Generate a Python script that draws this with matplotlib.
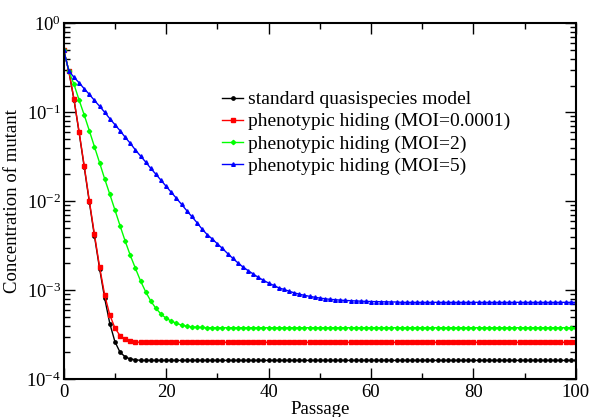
import matplotlib
matplotlib.use("Agg")
import matplotlib.pyplot as plt
from matplotlib.ticker import LogLocator, MultipleLocator, NullFormatter

plt.rcParams['font.family'] = ['Liberation Serif', 'DejaVu Serif']
plt.rcParams['mathtext.fontset'] = 'custom'
plt.rcParams['mathtext.rm'] = 'Liberation Serif'

# passages 0..100
passage = list(range(101))

# values (concentration of mutant)
standard = [0.5, 0.29, 0.139, 0.0593, 0.0243, 0.0098, 0.00406, 0.00175,
            8.09e-4, 4.21e-4, 2.63e-4, 2.00e-4, 1.78e-4, 1.68e-4, 1.65e-4] + [1.62e-4] * 86
moi_0001 = [0.5, 0.29, 0.141, 0.0605, 0.0251, 0.0101, 0.00424, 0.00183,
            8.81e-4, 5.25e-4, 3.75e-4, 3.07e-4, 2.80e-4, 2.68e-4, 2.61e-4] + [2.59e-4] * 86
moi_2 = [0.5, 0.29, 0.2065, 0.1375, 0.0933, 0.0621, 0.0410, 0.0271, 0.0178,
         0.01197, 0.00797, 0.00530, 0.00356, 0.00246, 0.00176, 0.00127,
         9.59e-4, 7.54e-4, 6.24e-4, 5.38e-4, 4.82e-4, 4.49e-4, 4.23e-4,
         4.05e-4, 3.94e-4, 3.87e-4, 3.83e-4, 3.80e-4] + [3.78e-4] * 73
moi_5 = [0.5, 0.29, 0.248, 0.215, 0.184, 0.159, 0.136, 0.117, 0.100, 0.0848,
         0.0726, 0.0621, 0.0524, 0.0448, 0.0377, 0.0322, 0.0276, 0.0234,
         0.0201, 0.0172, 0.0147, 0.0126, 0.0108, 0.00923, 0.00786, 0.00673,
         0.00576, 0.00487, 0.00422, 0.00376, 0.00332, 0.00294, 0.00258,
         0.00228, 0.00203, 0.00182, 0.00166, 0.00152, 0.00139, 0.00129,
         0.00120, 0.00113, 0.00106, 0.00102, 9.72e-4, 9.33e-4, 9.00e-4,
         8.74e-4, 8.52e-4, 8.32e-4, 8.15e-4, 8.00e-4, 7.88e-4, 7.80e-4,
         7.72e-4, 7.66e-4, 7.60e-4, 7.56e-4, 7.52e-4, 7.48e-4, 7.44e-4,
         7.42e-4, 7.40e-4, 7.38e-4, 7.36e-4, 7.35e-4] + [7.29e-4] * 35

labels = ['standard quasispecies model', 'phenotypic hiding (MOI=0.0001)',
          'phenotypic hiding (MOI=2)', 'phenotypic hiding (MOI=5)']

fig = plt.figure(figsize=(5.9, 4.17), dpi=100)
ax = fig.add_axes([0.108, 0.091, 0.868, 0.853])

ax.plot(passage, standard, color='black', marker='o', ms=2.4, lw=1.0, label=labels[0])
ax.plot(passage, moi_0001, color='#ff0000', marker='s', ms=2.4, lw=1.0, label=labels[1])
ax.plot(passage, moi_2, color='#00ff00', marker='D', ms=2.2, lw=1.0, label=labels[2])
ax.plot(passage, moi_5, color='#0000ff', marker='^', ms=2.6, lw=1.0, label=labels[3])

ax.set_yscale('log')
ax.set_xlim(0, 100)
ax.set_ylim(1e-4, 1)
ax.xaxis.set_major_locator(MultipleLocator(20))
ax.xaxis.set_minor_locator(MultipleLocator(10))
ax.yaxis.set_major_locator(LogLocator(base=10, numticks=10))
ax.yaxis.set_minor_locator(LogLocator(base=10, subs=range(2, 10), numticks=10))
ax.yaxis.set_minor_formatter(NullFormatter())
ax.tick_params(which='both', direction='in', top=True, right=True, labelsize=13.5, width=1)
ax.tick_params(axis='y', pad=2)
ax.tick_params(which='major', length=8)
ax.tick_params(which='minor', length=4)
for s in ax.spines.values():
    s.set_linewidth(1.5)

ax.set_xlabel('Passage', fontsize=13.5, labelpad=0)
ax.set_ylabel('Concentration of mutant', fontsize=13.5, labelpad=4)

ax.legend(loc='upper left', bbox_to_anchor=(0.29, 0.838), frameon=False, fontsize=14,
          handlelength=1.1, handletextpad=0.26, labelspacing=0.23, borderpad=0)

fig.savefig('out.png', dpi=100)
